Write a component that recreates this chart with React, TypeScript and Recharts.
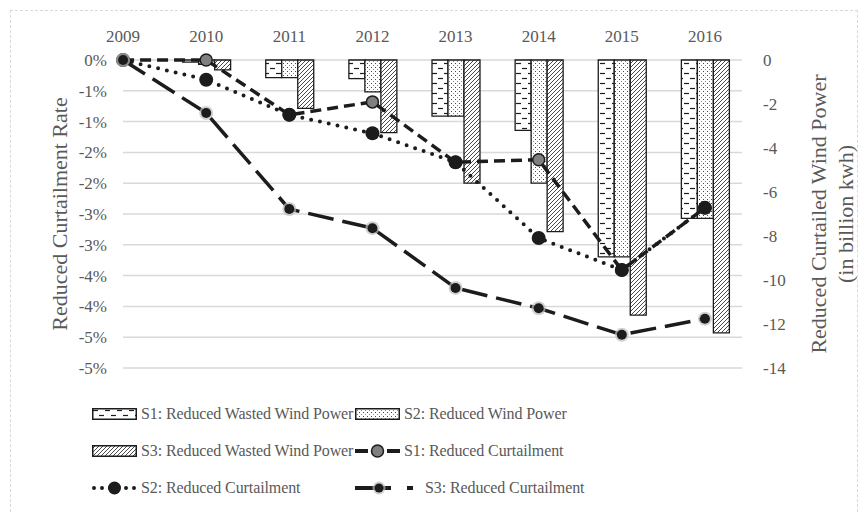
import React from "react";
import { ComposedChart, Bar, Line, XAxis, YAxis, CartesianGrid } from "recharts";

// Years on the top category axis
const years = ["2009", "2010", "2011", "2012", "2013", "2014", "2015", "2016"];

// Bars, right axis (billion kWh)
const s1Wasted = [0, -0.1, -0.8, -0.85, -2.55, -3.2, -8.95, -7.2];
const s2Wind = [0, -0.2, -0.8, -1.45, -2.55, -5.6, -8.95, -7.2];
const s3Wasted = [0, -0.45, -2.2, -3.3, -5.6, -7.8, -11.6, -12.4];

// Lines, left axis (percent)
const s1Curtail = [0, 0, -0.89, -0.68, -1.66, -1.62, -3.41, -2.4];
const s2Curtail = [0, -0.32, -0.89, -1.19, -1.66, -2.89, -3.41, -2.4];
const s3Curtail = [0, -0.86, -2.42, -2.73, -3.7, -4.03, -4.46, -4.2];

const rateTicks = [0, -0.5, -1, -1.5, -2, -2.5, -3, -3.5, -4, -4.5, -5];
const powerTicks = [0, -2, -4, -6, -8, -10, -12, -14];

const data = years.map((year, i) => ({
  year,
  s1Wasted: s1Wasted[i],
  s2Wind: s2Wind[i],
  s3Wasted: s3Wasted[i],
  s1Curtail: s1Curtail[i],
  s2Curtail: s2Curtail[i],
  s3Curtail: s3Curtail[i],
}));

const FONT = '"Liberation Serif", "Times New Roman", serif';
const GREY = "#595959";
const INK = "#1c1c1c";

// excel style "0%" format: rounds half away from zero
const fmtRate = (v: number) => (v === 0 ? "0%" : `-${Math.round(Math.abs(v))}%`);

const tickStyle = { fontSize: 17, fill: GREY, fontFamily: FONT };

const S1Dot = (props: any) => (
  <circle key={`s1-${props.index}`} cx={props.cx} cy={props.cy} r={6} fill="#7f7f7f" stroke={INK} strokeWidth={1.5} />
);
const S2Dot = (props: any) => (
  <circle key={`s2-${props.index}`} cx={props.cx} cy={props.cy} r={7} fill={INK} />
);
const S3Dot = (props: any) => (
  <g key={`s3-${props.index}`}>
    <circle cx={props.cx} cy={props.cy} r={7} fill="#bdbdbd" opacity={0.7} />
    <circle cx={props.cx} cy={props.cy} r={5} fill={INK} />
  </g>
);

const LeftTitle = (props: any) => {
  const { x, y, height } = props.viewBox;
  const cx = x + 48;
  const cy = y + height / 2;
  return (
    <text x={cx} y={cy} transform={`rotate(-90 ${cx} ${cy})`} textAnchor="middle" dominantBaseline="central"
      fill={GREY} fontSize={22} fontFamily={FONT}>
      Reduced Curtailment Rate
    </text>
  );
};

const RightTitle = (props: any) => {
  const { x, y, height } = props.viewBox;
  const cy = y + height / 2;
  const a = x + 76;
  const b = x + 103;
  return (
    <g fill={GREY} fontSize={22} fontFamily={FONT}>
      <text x={a} y={cy} transform={`rotate(-90 ${a} ${cy})`} textAnchor="middle" dominantBaseline="central">
        Reduced Curtailed Wind Power
      </text>
      <text x={b} y={cy} transform={`rotate(-90 ${b} ${cy})`} textAnchor="middle" dominantBaseline="central">
        (in billion kwh)
      </text>
    </g>
  );
};

const Patterns = () => (
  <defs>
    <pattern id="pat-dash" width="12" height="10" patternUnits="userSpaceOnUse">
      <rect width="12" height="10" fill="#fff" />
      <line x1="1" y1="2.5" x2="6" y2="2.5" stroke={INK} strokeWidth="1.2" />
      <line x1="7" y1="7.5" x2="12" y2="7.5" stroke={INK} strokeWidth="1.2" />
    </pattern>
    <pattern id="pat-dot" width="4" height="4" patternUnits="userSpaceOnUse">
      <rect width="4" height="4" fill="#fff" />
      <rect x="0" y="0" width="1" height="1" fill="#444" />
      <rect x="2" y="2" width="1" height="1" fill="#888" />
    </pattern>
    <pattern id="pat-diag" width="4" height="4" patternUnits="userSpaceOnUse">
      <rect width="4" height="4" fill="#fff" />
      <path d="M-1,1 l2,-2 M0,4 l4,-4 M3,5 l2,-2" stroke="#333" strokeWidth="0.9" />
    </pattern>
  </defs>
);

const Swatch = ({ fill }: { fill: string }) => (
  <svg width={45} height={12} style={{ display: "block", flex: "none" }}>
    <rect x={0.75} y={0.75} width={43.5} height={10.5} fill={fill} stroke={INK} strokeWidth={1.5} />
  </svg>
);

const LineIcon = ({ kind }: { kind: 1 | 2 | 3 }) => {
  const w = kind === 3 ? 66 : 45;
  const c = kind === 3 ? 24 : 22.5;
  return (
    <svg width={w} height={16} style={{ display: "block", flex: "none" }}>
      {kind === 1 && (
        <>
          <line x1={0} y1={8} x2={13} y2={8} stroke={INK} strokeWidth={4} />
          <line x1={32} y1={8} x2={45} y2={8} stroke={INK} strokeWidth={4} />
          <circle cx={c} cy={8} r={6} fill="#7f7f7f" stroke={INK} strokeWidth={1.5} />
        </>
      )}
      {kind === 2 && (
        <>
          <line x1={2} y1={8} x2={45} y2={8} stroke={INK} strokeWidth={4} strokeDasharray="0 8" strokeLinecap="round" />
          <circle cx={c} cy={8} r={6.5} fill={INK} />
        </>
      )}
      {kind === 3 && (
        <>
          <line x1={0} y1={8} x2={36} y2={8} stroke={INK} strokeWidth={4} />
          <line x1={52} y1={8} x2={58} y2={8} stroke={INK} strokeWidth={4} />
          <circle cx={c} cy={8} r={6.5} fill="#bdbdbd" opacity={0.7} />
          <circle cx={c} cy={8} r={4.5} fill={INK} />
        </>
      )}
    </svg>
  );
};

const LegendItem = ({ icon, label, width }: { icon: React.ReactNode; label: string; width?: number }) => (
  <div style={{ display: "flex", alignItems: "center", gap: 4, width, whiteSpace: "nowrap" }}>
    {icon}
    <span>{label}</span>
  </div>
);

export default function App() {
  return (
    <div
      style={{
        marginLeft: 2,
        marginTop: 2,
        width: 846,
        height: 520,
        border: "1px dashed #d9d9d9",
        fontFamily: FONT,
        color: GREY,
      }}
    >
      <ComposedChart width={846} height={380} data={data} margin={{ top: 19, right: 0, bottom: 23, left: 0 }} barGap={0}>
        <Patterns />
        <CartesianGrid vertical={false} yAxisId="left" stroke="#d9d9d9" strokeWidth={1.5} />
        <XAxis
          dataKey="year"
          orientation="top"
          height={30}
          axisLine={false}
          tickLine={false}
          tickMargin={12}
          padding={{ left: -41.5, right: -4.5 }}
          tick={tickStyle}
          interval={0}
        />
        <YAxis
          yAxisId="left"
          width={112}
          domain={[-5, 0]}
          ticks={rateTicks}
          tickFormatter={fmtRate}
          axisLine={false}
          tickLine={false}
          tickMargin={10}
          tick={tickStyle}
          interval={0}
          label={{ content: LeftTitle }}
        />
        <YAxis
          yAxisId="right"
          orientation="right"
          width={115}
          domain={[-14, 0]}
          ticks={powerTicks}
          axisLine={false}
          tickLine={false}
          tickMargin={15}
          tick={tickStyle}
          interval={0}
          label={{ content: RightTitle }}
        />
        <Bar yAxisId="right" dataKey="s1Wasted" barSize={16} fill="url(#pat-dash)" stroke={INK} strokeWidth={1.3} isAnimationActive={false} />
        <Bar yAxisId="right" dataKey="s2Wind" barSize={16} fill="url(#pat-dot)" stroke={INK} strokeWidth={1.3} isAnimationActive={false} />
        <Bar yAxisId="right" dataKey="s3Wasted" barSize={16} fill="url(#pat-diag)" stroke={INK} strokeWidth={1.3} isAnimationActive={false} />
        <Line yAxisId="left" dataKey="s1Curtail" stroke={INK} strokeWidth={3.5} strokeDasharray="11 6" dot={S1Dot} activeDot={false} isAnimationActive={false} />
        <Line yAxisId="left" dataKey="s2Curtail" stroke={INK} strokeWidth={4} strokeDasharray="0 9" strokeLinecap="round" dot={S2Dot} activeDot={false} isAnimationActive={false} />
        <Line yAxisId="left" dataKey="s3Curtail" stroke={INK} strokeWidth={3.5} strokeDasharray="26 9" dot={S3Dot} activeDot={false} isAnimationActive={false} />
      </ComposedChart>
      <div style={{ paddingLeft: 81, marginTop: 4, fontSize: 16, letterSpacing: -0.1 }}>
        <div style={{ display: "flex", height: 37, alignItems: "center" }}>
          <LegendItem width={263} icon={<Swatch fill="url(#pat-dash)" />} label="S1: Reduced Wasted Wind Power" />
          <LegendItem icon={<Swatch fill="url(#pat-dot)" />} label="S2: Reduced Wind Power" />
        </div>
        <div style={{ display: "flex", height: 37, alignItems: "center" }}>
          <LegendItem width={263} icon={<Swatch fill="url(#pat-diag)" />} label="S3: Reduced Wasted Wind Power" />
          <LegendItem icon={<LineIcon kind={1} />} label="S1: Reduced Curtailment" />
        </div>
        <div style={{ display: "flex", height: 37, alignItems: "center" }}>
          <LegendItem width={263} icon={<LineIcon kind={2} />} label="S2: Reduced Curtailment" />
          <LegendItem icon={<LineIcon kind={3} />} label="S3: Reduced Curtailment" />
        </div>
      </div>
    </div>
  );
}
